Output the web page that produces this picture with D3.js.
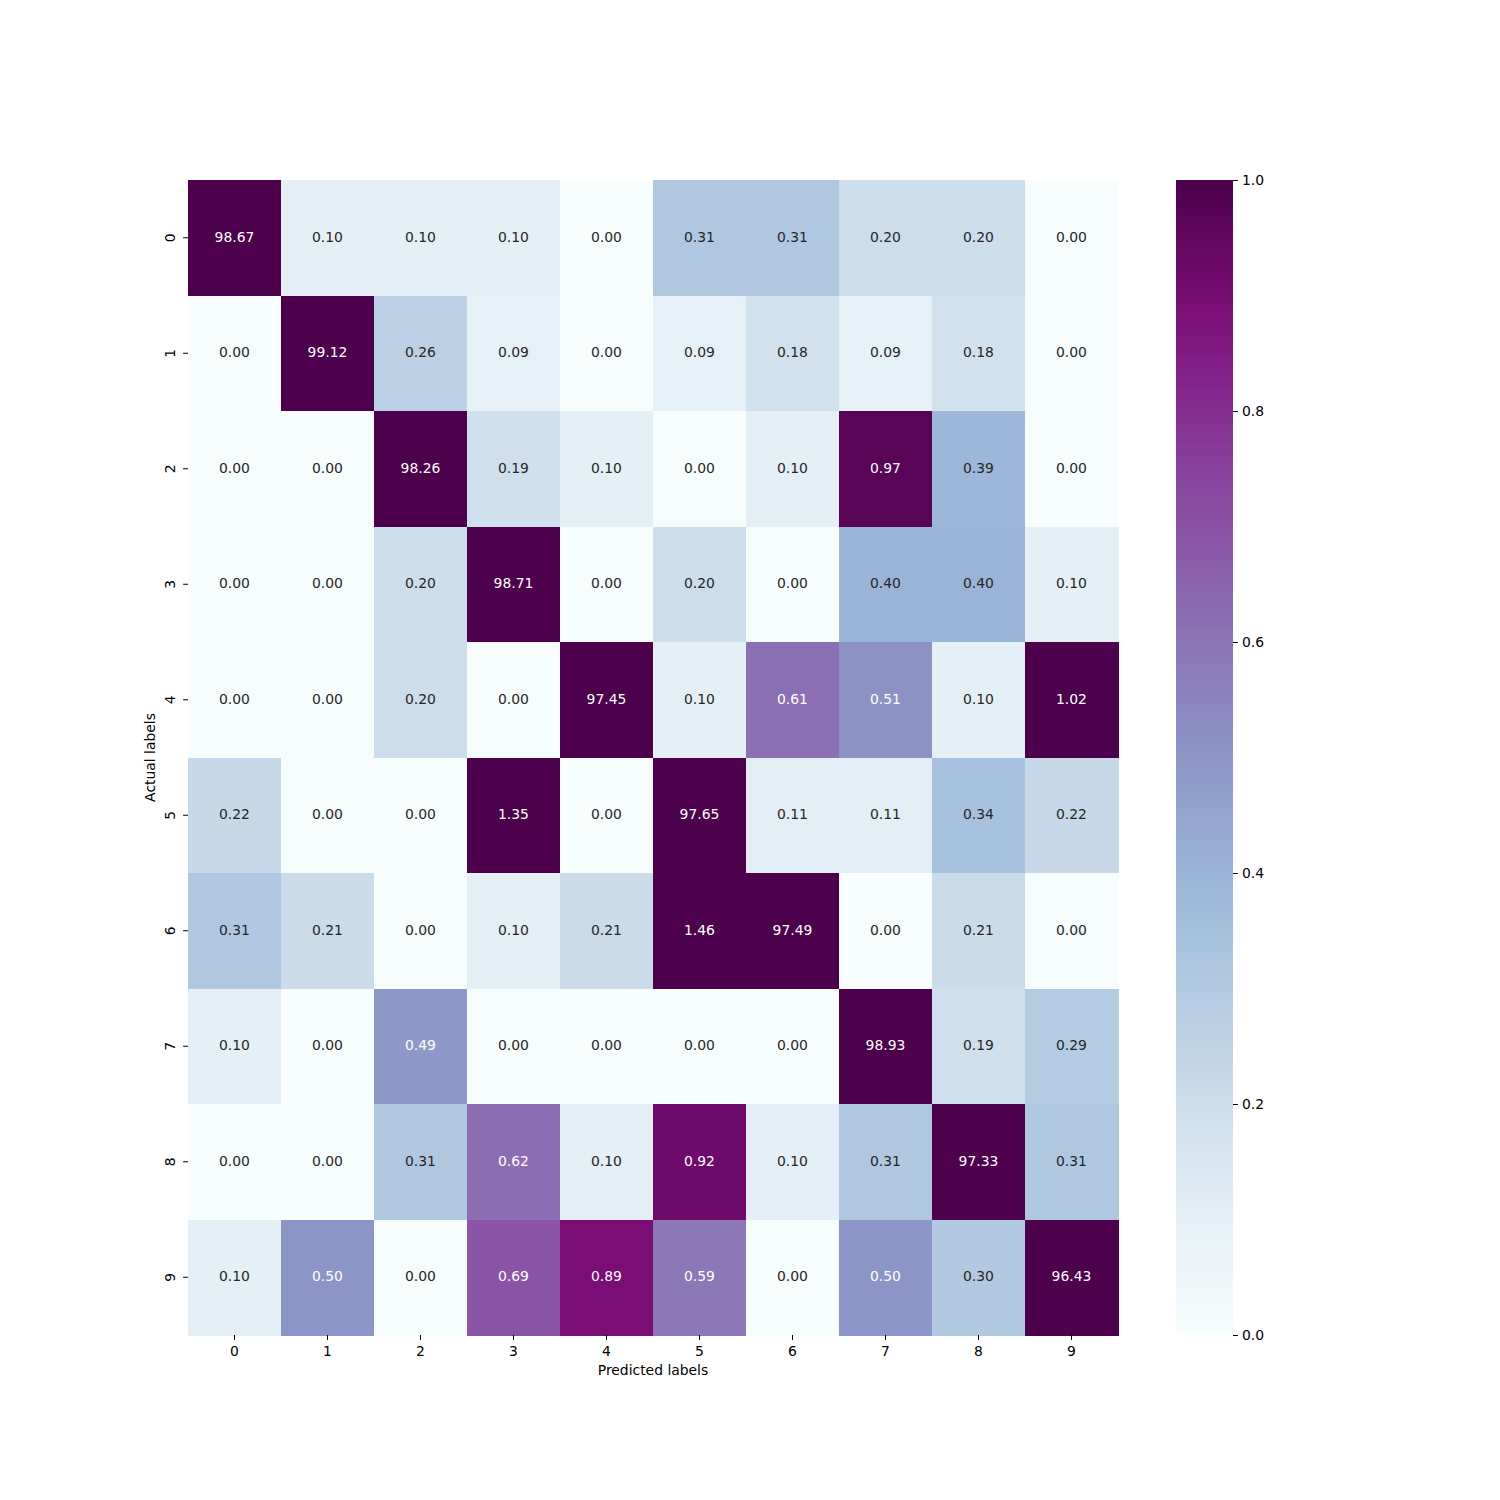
<!DOCTYPE html>
<html>
<head>
<meta charset="utf-8">
<script src="https://cdn.jsdelivr.net/npm/d3@7"></script>
<style>
  body { margin: 0; background: #fff; }
  svg text { font-family: "DejaVu Sans", sans-serif; }
</style>
</head>
<body>
<svg id="chart" width="1500" height="1500"></svg>
<script>
const predictedLabels = ["0", "1", "2", "3", "4", "5", "6", "7", "8", "9"];
const actualLabels = ["0", "1", "2", "3", "4", "5", "6", "7", "8", "9"];
const row0 = [98.67, 0.10, 0.10, 0.10, 0.00, 0.31, 0.31, 0.20, 0.20, 0.00];
const row1 = [0.00, 99.12, 0.26, 0.09, 0.00, 0.09, 0.18, 0.09, 0.18, 0.00];
const row2 = [0.00, 0.00, 98.26, 0.19, 0.10, 0.00, 0.10, 0.97, 0.39, 0.00];
const row3 = [0.00, 0.00, 0.20, 98.71, 0.00, 0.20, 0.00, 0.40, 0.40, 0.10];
const row4 = [0.00, 0.00, 0.20, 0.00, 97.45, 0.10, 0.61, 0.51, 0.10, 1.02];
const row5 = [0.22, 0.00, 0.00, 1.35, 0.00, 97.65, 0.11, 0.11, 0.34, 0.22];
const row6 = [0.31, 0.21, 0.00, 0.10, 0.21, 1.46, 97.49, 0.00, 0.21, 0.00];
const row7 = [0.10, 0.00, 0.49, 0.00, 0.00, 0.00, 0.00, 98.93, 0.19, 0.29];
const row8 = [0.00, 0.00, 0.31, 0.62, 0.10, 0.92, 0.10, 0.31, 97.33, 0.31];
const row9 = [0.10, 0.50, 0.00, 0.69, 0.89, 0.59, 0.00, 0.50, 0.30, 96.43];
const colorbarTicks = [0.0, 0.2, 0.4, 0.6, 0.8, 1.0];

const rows = [row0, row1, row2, row3, row4, row5, row6, row7, row8, row9];
const cells = [];
rows.forEach((r, i) => r.forEach((v, j) => cells.push({ row: actualLabels[i], col: predictedLabels[j], value: v })));

// heatmap box
const hmLeft = 188, hmRight = 1118, hmTop = 180, hmBottom = 1335;

var svg = d3.select("#chart");

var x = d3.scaleBand().domain(predictedLabels).range([hmLeft, hmRight]);
var y = d3.scaleBand().domain(actualLabels).range([hmTop, hmBottom]);

// matplotlib BuPu is a linear segmented map of the 9 brewer colours
var bupu = d3.schemeBuPu[9];
var color = d3.scaleLinear()
    .domain(bupu.map((c, i) => i / (bupu.length - 1)))
    .range(bupu)
    .interpolate(d3.interpolateRgb)
    .clamp(true);

function lum(c) {
    var rgb = d3.rgb(c);
    var f = v => { v /= 255; return v <= 0.03928 ? v / 12.92 : Math.pow((v + 0.055) / 1.055, 2.4); };
    return 0.2126 * f(rgb.r) + 0.7152 * f(rgb.g) + 0.0722 * f(rgb.b);
}

svg.selectAll("rect.cell")
    .data(cells)
    .enter()
    .append("rect")
    .attr("class", "cell")
    .attr("x", d => x(d.col))
    .attr("y", d => y(d.row))
    .attr("width", x.bandwidth() + 0.5)
    .attr("height", y.bandwidth() + 0.5)
    .attr("fill", d => color(d.value))
    .attr("shape-rendering", "crispEdges");

svg.selectAll("text.annot")
    .data(cells)
    .enter()
    .append("text")
    .attr("class", "annot")
    .attr("x", d => x(d.col) + x.bandwidth() / 2)
    .attr("y", d => y(d.row) + y.bandwidth() / 2 - 1)
    .attr("text-anchor", "middle")
    .attr("dominant-baseline", "central")
    .style("font-size", "13.9px")
    .attr("fill", d => lum(color(d.value)) > 0.408 ? "#262626" : "#ffffff")
    .text(d => d.value.toFixed(2));

// axes
var xAxis = svg.append("g")
    .attr("transform", `translate(0,${hmBottom})`)
    .call(d3.axisBottom(x).tickSize(4.9).tickPadding(6));
xAxis.select(".domain").remove();
xAxis.selectAll("text").style("font-size", "13.9px").attr("fill", "#000");

var yAxis = svg.append("g")
    .attr("transform", `translate(${hmLeft},0)`)
    .call(d3.axisLeft(y).tickSize(4.9).tickPadding(4));
yAxis.select(".domain").remove();
yAxis.selectAll("text")
    .style("font-size", "13.9px")
    .attr("fill", "#000")
    .attr("text-anchor", "middle")
    .attr("dy", null)
    .attr("x", null)
    .attr("transform", "translate(-18,0) rotate(-90)")
    .attr("dominant-baseline", "central");

svg.append("text")
    .attr("x", (hmLeft + hmRight) / 2)
    .attr("y", 1375)
    .attr("text-anchor", "middle")
    .style("font-size", "13.9px")
    .attr("fill", "#000")
    .text("Predicted labels");

svg.append("text")
    .attr("transform", `translate(155,${(hmTop + hmBottom) / 2}) rotate(-90)`)
    .attr("text-anchor", "middle")
    .style("font-size", "13.9px")
    .attr("fill", "#000")
    .text("Actual labels");

// colorbar
const cbLeft = 1176, cbWidth = 57;
var cbScale = d3.scaleLinear().domain([0, 1]).range([hmBottom, hmTop]);

var defs = svg.append("defs");
var grad = defs.append("linearGradient")
    .attr("id", "cbGrad")
    .attr("x1", 0).attr("y1", 1).attr("x2", 0).attr("y2", 0);
d3.range(0, 1.0001, 0.05).forEach(t => {
    grad.append("stop").attr("offset", t).attr("stop-color", color(t));
});

svg.append("rect")
    .attr("x", cbLeft)
    .attr("y", hmTop)
    .attr("width", cbWidth)
    .attr("height", hmBottom - hmTop)
    .attr("fill", "url(#cbGrad)");

var cbAxis = svg.append("g")
    .attr("transform", `translate(${cbLeft + cbWidth},0)`)
    .call(d3.axisRight(cbScale).tickValues(colorbarTicks).tickFormat(d3.format(".1f")).tickSize(4.9).tickPadding(4));
cbAxis.select(".domain").remove();
cbAxis.selectAll("text").style("font-size", "13.9px").attr("fill", "#000");
</script>
</body>
</html>
